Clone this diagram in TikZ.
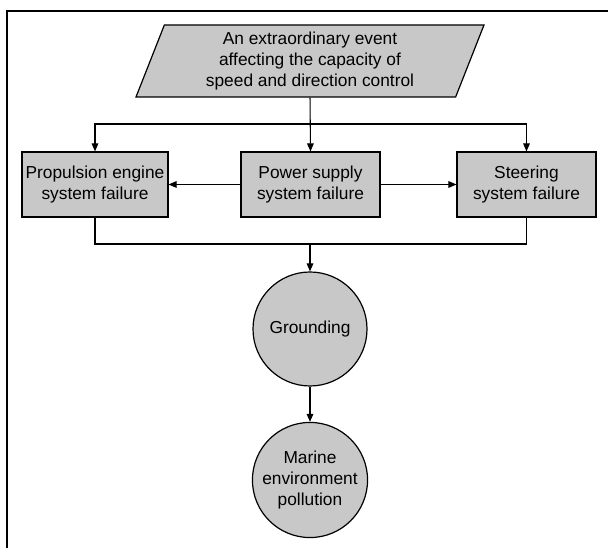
\documentclass[tikz,border=0pt]{standalone}
\usepackage{fontspec}
\setmainfont{Liberation Sans}
\usetikzlibrary{shapes.geometric,arrows.meta}
\definecolor{boxgray}{RGB}{200,200,200}
\begin{document}
\begin{tikzpicture}[x=0.75pt,y=-0.75pt,
    font=\fontsize{13}{15.75}\selectfont,
    every node/.style={align=center,inner sep=1pt},
    event/.style={trapezium,trapezium left angle=65,trapezium right angle=115,
        trapezium stretches body,draw,fill=boxgray,line width=0.9pt,
        minimum width=261pt,minimum height=54pt},
    box/.style={rectangle,draw,fill=boxgray,line width=0.9pt,minimum height=48.75pt},
    state/.style={circle,draw,fill=boxgray,line width=0.9pt,minimum size=85.5pt},
    link/.style={line width=0.8pt,-{Triangle[length=6pt,width=5pt]}},
    line/.style={line width=0.8pt}]
    \useasboundingbox (0,0) rectangle (608,548);
    % frame
    \draw[line width=1.5pt] (7,548) -- (7,11) -- (608,11);

    % nodes
    \node[event] (event) at (310,61) {An extraordinary event\\affecting the capacity of\\speed and direction control};
    \node[box,minimum width=109.5pt] (prop) at (95,184.5) {Propulsion engine\\system failure};
    \node[box,minimum width=104.25pt] (power) at (310.5,184.5) {Power supply\\system failure};
    \node[box,minimum width=104.25pt] (steer) at (526.5,184.5) {Steering\\system failure};
    \node[state] (ground) at (310,329) {Grounding};
    \node[state] (pollut) at (310,480) {Marine\\environment\\pollution};

    % connectors
    \coordinate (split) at (310,124);
    \coordinate (join) at (310,244);
    \draw[link] (event.south) -- (power.north);
    \draw[link] (split) -| (prop.north);
    \draw[link] (split) -| (steer.north);
    \draw[link] (power.west) -- (prop.east);
    \draw[link] (power.east) -- (steer.west);
    \draw[line] (prop.south) |- (join) -| (steer.south);
    \draw[link] (join) -- (ground.north);
    \draw[link] (ground.south) -- (pollut.north);
\end{tikzpicture}
\end{document}
